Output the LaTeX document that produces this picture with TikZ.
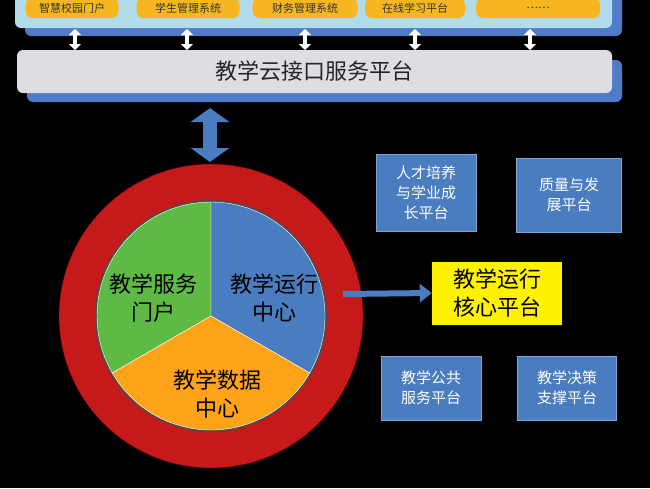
\documentclass[tikz,border=0pt]{standalone}
\usepackage{fontspec}
\newfontfamily\cjk{Noto Sans CJK SC}
\usetikzlibrary{arrows.meta}
\definecolor{pill}{HTML}{F6B620}
\definecolor{bl}{HTML}{4A7CC0}
\definecolor{sb}{HTML}{4F7BC8}
\tikzset{
 pillbox/.style={fill=pill,rounded corners=7pt,minimum height=20pt,font=\cjk\fontsize{11}{12}\selectfont,text=black!80,inner sep=0pt},
 bluebox/.style={fill=bl,draw=bl!70!white,text=white,font=\cjk\fontsize{15}{20}\selectfont,align=center,inner sep=2pt},
 bigtxt/.style={font=\cjk\fontsize{22}{28}\selectfont,align=center},
}
\begin{document}
\begin{tikzpicture}[x=1pt,y=-1pt]
\useasboundingbox[fill=black] (0,0) rectangle (650,488);
% top panel
\fill[sb,rounded corners=6pt] (25,-10) rectangle (622,36);
\fill[cyan!30!white!85!gray,rounded corners=6pt] (15,-10) rectangle (612,28);
\node[pillbox,minimum width=93pt] (p1) at (72,8) {智慧校园门户};
\node[pillbox,minimum width=103pt] (p2) at (188,8) {学生管理系统};
\node[pillbox,minimum width=105pt] (p3) at (305,8) {财务管理系统};
\node[pillbox,minimum width=100pt] (p4) at (415,8) {在线学习平台};
\node[pillbox,minimum width=124pt] (p5) at (538,8) {……};
% interface bar
\fill[sb,rounded corners=6pt] (27,60) rectangle (622,102);
\node[fill=blue!8!gray!25!white,rounded corners=6pt,minimum width=595pt,minimum height=43pt,font=\cjk\fontsize{22}{26}\selectfont,text=black!85] (bar) at (314.5,71.5) {教学云接口服务平台};
\foreach \x/\n in {75/p1,187/p2,305/p3,415/p4,530/p5}{
 \draw[white,line width=4pt,{Triangle[length=6pt,width=12pt]}-{Triangle[length=6pt,width=12pt]}] (\x,29) -- (\x,50);
}
% big arrow
\draw[bl,line width=14pt,{Triangle[length=14pt,width=38pt]}-{Triangle[length=14pt,width=38pt]}] (210,108) -- (210,162);
% circle
\coordinate (c) at (211,316);
\fill[red!75!black!90!white,draw=red!40!black] (c) circle (152);
\fill[black!70] (c) circle (116);
\fill[green!40!gray!90!yellow,draw=white] (c) -- ++(-90:114) arc[start angle=-90,end angle=-210,radius=114] -- cycle;
\fill[bl,draw=white] (c) -- ++(30:114) arc[start angle=30,end angle=-90,radius=114] -- cycle;
\fill[orange!80!yellow!90!white,draw=white] (c) -- ++(-210:114) arc[start angle=-210,end angle=-330,radius=114] -- cycle;
\node[bigtxt] (s1) at (153,298) {教学服务\\门户};
\node[bigtxt] (s2) at (274,298) {教学运行\\中心};
\node[bigtxt] (s3) at (217,394) {教学数据\\中心};
% yellow
\node[fill=yellow,minimum width=130pt,minimum height=63pt,bigtxt] (y) at (497,293) {教学运行\\核心平台};
\draw[bl,line width=6pt,-{Triangle[length=12pt,width=18pt]}] (343,294) -- (y.west);
\node[bluebox,minimum width=100pt,minimum height=77pt] (b1) at (426,193) {人才培养\\与学业成\\长平台};
\node[bluebox,minimum width=105pt,minimum height=74pt] (b2) at (569,195) {质量与发\\展平台};
\node[bluebox,minimum width=100pt,minimum height=64pt] (b3) at (431,388) {教学公共\\服务平台};
\node[bluebox,minimum width=99pt,minimum height=64pt] (b4) at (567,388) {教学决策\\支撑平台};
\end{tikzpicture}
\end{document}
